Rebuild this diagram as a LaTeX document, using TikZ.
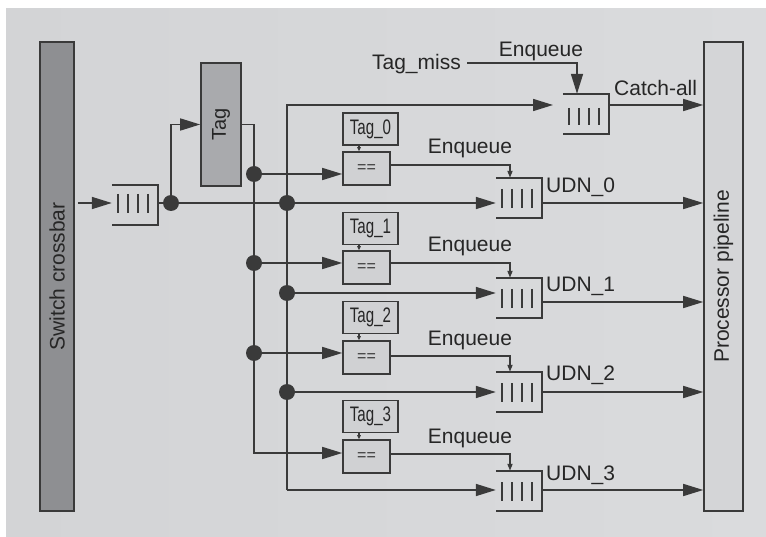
\documentclass[tikz,border=0pt]{standalone}
\usepackage{fontspec}
\usepackage{graphicx}
\setmainfont{Liberation Sans}
\usetikzlibrary{arrows.meta}
\definecolor{ink}{HTML}{3A3A3A}
\definecolor{bgl}{HTML}{D3D4D6}
\definecolor{bgm}{HTML}{F1F1F1}
\definecolor{bgr}{HTML}{DADBDD}
\definecolor{crossfill}{HTML}{8E8F92}
\definecolor{tagfill}{HTML}{A9AAAD}
\definecolor{procfill}{HTML}{D4D5D7}
\definecolor{cmpfill}{HTML}{D0D1D3}
\newcommand\mkqueue[5]{% name, left x, top y, bar top offset, bar length
  \node[qbox] (#1) at (#2+23,#3+20) {};
  \draw[wire] (#1.north west) -- (#1.north east) -- (#1.south east) -- (#1.south west);
  \foreach \k in {6,16,26,36} \draw[qbar] (#2+\k,#3+#4) -- ++(0,#5);
}
\newcommand\tagtext[1]{\scalebox{0.72}[1]{\fontsize{21}{22}\selectfont #1}}
\begin{document}
\begin{tikzpicture}[x=1pt,y=-1pt,
  wire/.style={draw=ink,line width=1.6pt},
  thinwire/.style={draw=ink,line width=1.1pt},
  qbar/.style={draw=ink,line width=1.5pt},
  big/.style={-{Triangle[length=20pt,width=12pt]}},
  small/.style={-{Triangle[length=7pt,width=5pt]}},
  tiny/.style={-{Triangle[length=4pt,width=3.5pt]}},
  dot/.style={circle,fill=ink,inner sep=0pt,minimum size=16pt},
  qbox/.style={inner sep=0pt,minimum width=46pt,minimum height=40pt},
  boxst/.style={draw=ink,line width=1.6pt,inner sep=0pt},
  lbl/.style={font=\fontsize{21}{24}\selectfont,inner sep=0pt,text=black!85},
  cmp/.style={boxst,fill=cmpfill,minimum width=47pt,minimum height=33pt,font=\fontsize{16}{18}\selectfont,text=black!80},
  tagi/.style={boxst,fill=cmpfill,minimum width=55pt,minimum height=32pt,text=black!85},
]
\useasboundingbox (0,0) rectangle (766,537);
\fill[white] (0,0) rectangle (766,537);
\shade[left color=bgl,middle color=bgm,right color=bgr] (6,9) rectangle (766,537);

% side bars
\node[boxst,fill=crossfill,minimum width=34pt,minimum height=469pt] (cross) at (57,276.5) {};
\node[lbl,rotate=90] at (cross.center) {Switch crossbar};
\node[boxst,fill=procfill,minimum width=39pt,minimum height=469pt] (proc) at (723.5,276.5) {};
\node[lbl,rotate=90] at (proc.center) {Processor pipeline};

% tag box
\node[boxst,fill=tagfill,minimum width=40pt,minimum height=123pt] (tag) at (221,124.5) {};
\node[lbl,rotate=90,font=\fontsize{20}{24}\selectfont] at (tag.center) {Tag};

% queues
\mkqueue{iq}{112}{185}{9}{19}
\mkqueue{cq}{563}{94}{14}{17}
\mkqueue{u0}{496}{178}{11}{19}
\mkqueue{u1}{496}{278}{11}{19}
\mkqueue{u2}{496}{372}{11}{19}
\mkqueue{u3}{496}{471}{11}{19}

% comparators and tag registers
\node[tagi] (t0) at (370.5,129) {\tagtext{Tag\_0}};
\node[cmp] (c0) at (366.5,168.5) {==};
\node[tagi] (t1) at (370.5,228.5) {\tagtext{Tag\_1}};
\node[cmp] (c1) at (366.5,267.5) {==};
\node[tagi] (t2) at (370.5,317.5) {\tagtext{Tag\_2}};
\node[cmp] (c2) at (366.5,357.5) {==};
\node[tagi] (t3) at (370.5,416.5) {\tagtext{Tag\_3}};
\node[cmp] (c3) at (366.5,456.5) {==};

\foreach \i in {0,1,2,3} \draw[thinwire,tiny] (t\i.south -| 359,0) -- (c\i.north -| 359,0);

% junction dots and corners
\node[dot] (d0) at (171,203) {};
\node[dot] (a0) at (254,174) {};
\node[dot] (a1) at (254,263) {};
\node[dot] (a2) at (254,353) {};
\coordinate (a3) at (254,453);
\node[dot] (b0) at (287,203) {};
\node[dot] (b1) at (287,293) {};
\node[dot] (b2) at (287,392) {};
\coordinate (b3) at (287,490);
\coordinate (ctip) at (553,105);
\coordinate (tmend) at (467,63);

% input path
\draw[wire,big] ([xshift=3pt]cross.east |- d0) -- (iq.west |- d0);
\draw[wire] (iq.east |- d0) -- (d0);
\draw[wire,big] (d0.center) |- (tag.west);
\draw[wire,big] (d0.center) -- (u0.west |- d0);

% tag distribution
\draw[wire,big] (tag.east) -| (a3) -- (c3.west |- a3);
\draw[wire,big] (a0.center) -- (c0.west |- a0);
\draw[wire,big] (a1.center) -- (c1.west |- a1);
\draw[wire,big] (a2.center) -- (c2.west |- a2);

% data distribution
\draw[wire,big] (b3) |- (ctip);
\draw[wire,big] (b3) -- (u3.west |- b3);
\draw[wire,big] (b1.center) -- (u1.west |- b1);
\draw[wire,big] (b2.center) -- (u2.west |- b2);

% enqueue signals
\draw[wire,small] (c0.east |- 0,165) -| (u0.north -| 510,0);
\draw[wire,small] (c1.east |- 0,263) -| (u1.north -| 510,0);
\draw[wire,small] (c2.east |- 0,356) -| (u2.north -| 510,0);
\draw[wire,small] (c3.east |- 0,454) -| (u3.north -| 510,0);
\draw[wire,big] (tmend) -| (cq.north -| 577,0);

% outputs
\draw[wire,big] (cq.east |- ctip) -- (proc.west |- ctip);
\coordinate (o0) at (542,203);
\coordinate (o1) at (542,302);
\coordinate (o2) at (542,392);
\coordinate (o3) at (542,490);
\foreach \i in {0,1,2,3} \draw[wire,big] (o\i) -- (proc.west |- o\i);

% labels
\node[lbl,anchor=base east] (tm) at (461,70) {Tag\_miss};
\node[lbl,anchor=base] (eq) at (541,57) {Enqueue};
\node[lbl,anchor=base west] (ca) at (614,96) {Catch-all};
\node[lbl,anchor=base] (e0) at (470,154) {Enqueue};
\node[lbl,anchor=base] (e1) at (470,252) {Enqueue};
\node[lbl,anchor=base] (e2) at (470,345) {Enqueue};
\node[lbl,anchor=base] (e3) at (470,443) {Enqueue};
\node[lbl,anchor=base west] (n0) at (546,193) {UDN\_0};
\node[lbl,anchor=base west] (n1) at (546,292) {UDN\_1};
\node[lbl,anchor=base west] (n2) at (546,381) {UDN\_2};
\node[lbl,anchor=base west] (n3) at (546,480) {UDN\_3};
\end{tikzpicture}
\end{document}
